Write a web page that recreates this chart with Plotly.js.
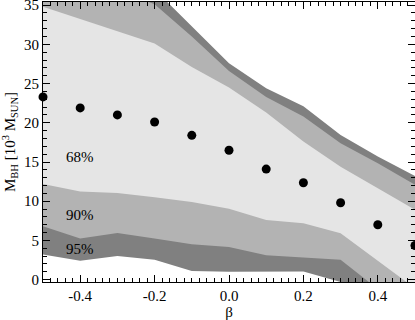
<!DOCTYPE html>
<html>
<head>
<meta charset="utf-8">
<script src="https://cdn.plot.ly/plotly-3.0.1.min.js"></script>
<style>html,body{margin:0;padding:0;background:#fff;}#chart{width:415px;height:320px;}</style>
</head>
<body>
<div id="chart"></div>
<script>
// beta grid
const beta = [-0.5, -0.4, -0.3, -0.2, -0.1, 0.0, 0.1, 0.2, 0.3, 0.4, 0.5];
// best-fit black hole mass (10^3 Msun)
const mbh = [23.3, 21.9, 21.0, 20.1, 18.4, 16.5, 14.1, 12.35, 9.8, 7.0, 4.35];
// confidence band bounds
const upper68 = [34.8, 33.2, 31.7, 30.1, 27.1, 24.5, 21.3, 17.6, 14.4, 11.7, 8.9];
const lower68 = [12.2, 11.25, 11.05, 10.5, 9.9, 9.05, 7.6, 7.2, 5.9, 2.4, -1.1];
const upper90 = [38.0, 37.5, 37.0, 35.1, 31.0, 26.6, 23.3, 20.8, 17.4, 14.85, 12.1];
const lower90 = [6.8, 5.25, 5.95, 5.25, 4.5, 4.16, 3.1, 2.84, 2.55, -1.2, -3.0];
const upper95 = [40.0, 40.0, 40.0, 37.0, 32.3, 27.6, 24.4, 22.1, 18.45, 15.7, 13.2];
const lower95 = [3.2, 2.4, 3.0, 2.55, 1.1, 1.0, 1.0, 1.05, -0.3, -3.0, -3.0];
const bandLabels = ['68%', '90%', '95%'];
// tick labels
const xTickVals = [-0.4, -0.2, 0.0, 0.2, 0.4];
const xTickText = ['-0.4', '-0.2', '0.0', '0.2', '0.4'];
const yTickVals = [0, 5, 10, 15, 20, 25, 30, 35];
const yTickText = ['0', '5', '10', '15', '20', '25', '30', '35'];

function band(up, lo, color) {
  return {
    x: beta.concat(beta.slice().reverse()),
    y: up.concat(lo.slice().reverse()),
    type: 'scatter', mode: 'lines', fill: 'toself',
    fillcolor: color, line: {width: 0, color: color},
    hoverinfo: 'skip', showlegend: false
  };
}

const traces = [
  band(upper95, lower95, '#808080'),
  band(upper90, lower90, '#b3b3b3'),
  band(upper68, lower68, '#e5e5e5'),
  {x: beta, y: mbh, type: 'scatter', mode: 'markers',
   marker: {color: '#000', size: 9}, showlegend: false, cliponaxis: false}
];

const font = {family: 'Liberation Serif, Times New Roman, serif', size: 15, color: '#000'};

const axisCommon = {
  showgrid: false, zeroline: false, showline: true, linecolor: '#000', linewidth: 1,
  mirror: 'allticks', ticks: 'inside', ticklen: 7, tickwidth: 1, tickcolor: '#000',
  tickfont: font, ticklabeloverflow: 'allow'
};

const layout = {
  width: 415, height: 320,
  margin: {l: 43, r: 0, t: 2, b: 38},
  paper_bgcolor: '#fff', plot_bgcolor: '#fff',
  font: font,
  xaxis: Object.assign({}, axisCommon, {
    range: [-0.5, 0.5], tickmode: 'array', tickvals: xTickVals, ticktext: xTickText,
    minor: {dtick: 0.02, tick0: 0, ticks: 'inside', ticklen: 4, tickcolor: '#000', showgrid: false},
    title: {text: 'β', font: font, standoff: 0}
  }),
  yaxis: Object.assign({}, axisCommon, {
    range: [-0.3, 35.4], tickmode: 'array', tickvals: yTickVals, ticktext: yTickText,
    minor: {dtick: 1, tick0: 0, ticks: 'inside', ticklen: 4, tickcolor: '#000', showgrid: false},
    title: {text: 'M<sub>BH</sub> [10<sup>3</sup> M<sub>SUN</sub>]', font: font, standoff: 4}
  }),
  annotations: [
    {x: -0.4, y: 15.65, text: bandLabels[0], showarrow: false, font: font},
    {x: -0.4, y: 8.27, text: bandLabels[1], showarrow: false, font: font},
    {x: -0.4, y: 3.95, text: bandLabels[2], showarrow: false, font: font}
  ]
};

Plotly.newPlot('chart', traces, layout, {staticPlot: true, displayModeBar: false});
</script>
</body>
</html>
